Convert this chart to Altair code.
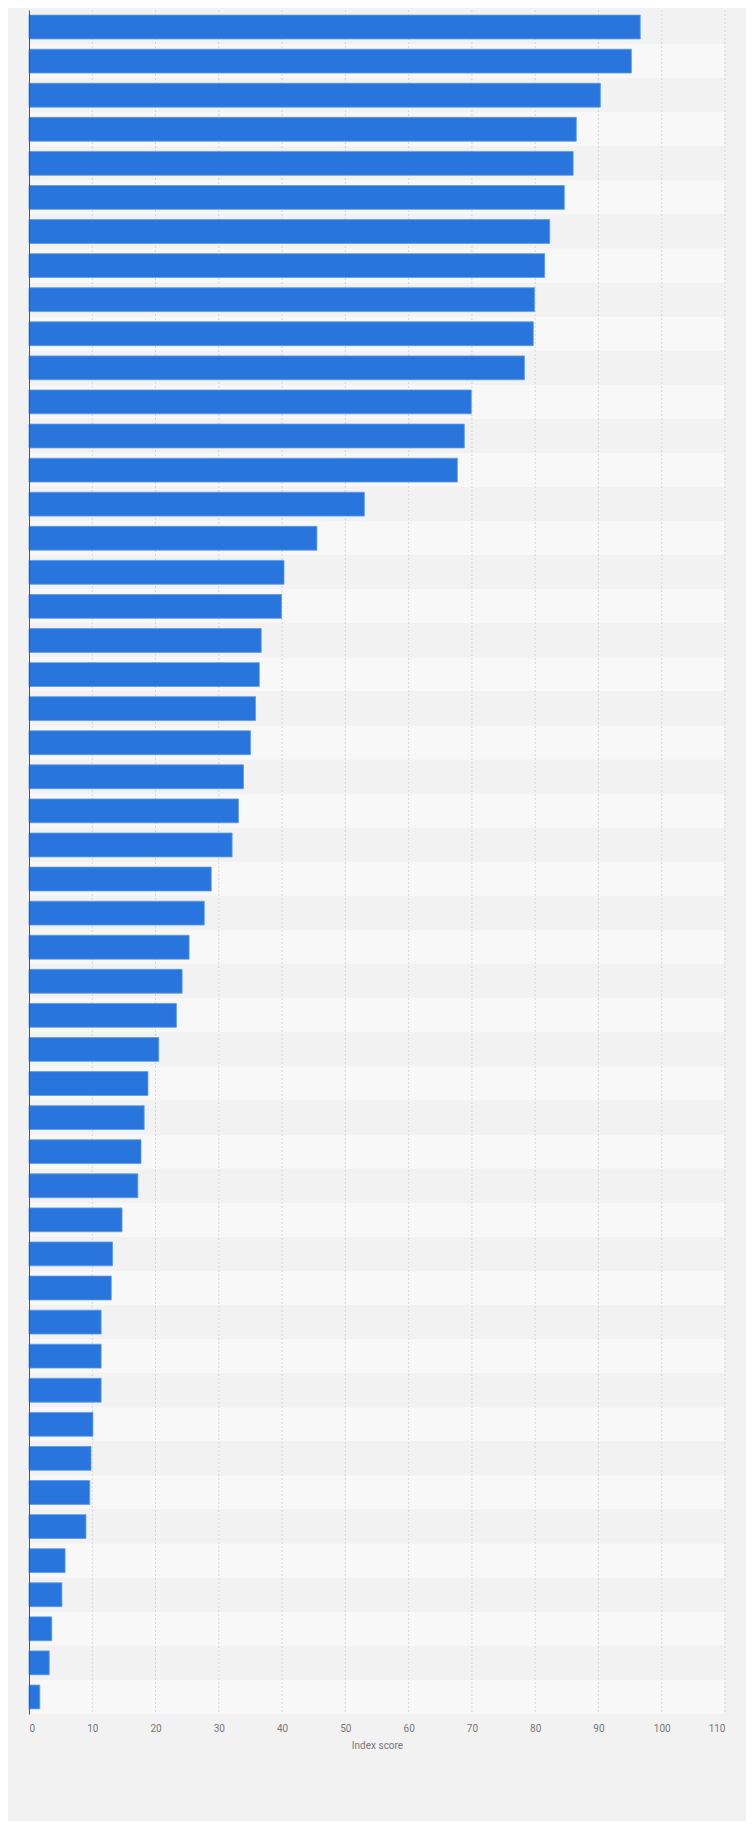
import altair as alt
import pandas as pd

ranks = [f"#{i}" for i in range(1, 51)]
scores = [96.6, 95.2, 90.3, 86.5, 86.0, 84.6, 82.3, 81.5, 79.9, 79.7,
          78.3, 69.9, 68.8, 67.7, 53.0, 45.5, 40.3, 39.9, 36.7, 36.4,
          35.8, 35.0, 33.9, 33.1, 32.1, 28.8, 27.7, 25.3, 24.2, 23.3,
          20.5, 18.8, 18.2, 17.7, 17.2, 14.7, 13.2, 13.0, 11.4, 11.4,
          11.4, 10.1, 9.8, 9.6, 9.0, 5.7, 5.2, 3.6, 3.2, 1.7]
x_ticks = list(range(0, 111, 10))

df = pd.DataFrame({"rank": ranks, "score": scores,
                   "stripe": [i % 2 for i in range(len(ranks))]})
grid_df = pd.DataFrame({"score": x_ticks[1:]})

font = "Roboto"

x_axis = alt.Axis(values=x_ticks, title="Index score", grid=False,
                  domain=False, ticks=False, labelFlush=True,
                  labelColor="#777777", labelFont=font, labelFontSize=10,
                  labelPadding=9, titleColor="#777777", titleFont=font,
                  titleFontSize=10, titleFontWeight="normal",
                  titlePadding=7)
x_scale = alt.Scale(domain=[0, 110], nice=False)

bg = alt.Chart(df).mark_rect().encode(
    y=alt.Y("rank:N", sort=ranks,
            scale=alt.Scale(paddingInner=0, paddingOuter=0),
            axis=None),
    x=alt.value(0),
    x2=alt.value(696),
    color=alt.Color("stripe:N",
                    scale=alt.Scale(domain=[0, 1], range=["#f2f2f2", "#f8f8f8"]),
                    legend=None),
)

grid = alt.Chart(grid_df).mark_rule(
    color="#d6d6d6", strokeDash=[2, 2], strokeWidth=1
).encode(
    x=alt.X("score:Q", scale=x_scale, axis=x_axis),
    y=alt.value(0),
    y2=alt.value(1704),
)

bars = alt.Chart(df).mark_bar(
    color="#2876dd", stroke="#5e9be9", strokeWidth=0.8
).encode(
    y=alt.Y("rank:N", sort=ranks,
            scale=alt.Scale(paddingInner=0.3, paddingOuter=0.15),
            axis=alt.Axis(labels=False, ticks=False, title=None, grid=False,
                          domain=True, domainColor="#555555", domainWidth=1,
                          zindex=2)),
    x=alt.X("score:Q", scale=x_scale, axis=x_axis),
)

chart = alt.layer(bg, grid, bars).resolve_scale(
    y="independent", color="independent"
).properties(
    width=696,
    height=1704,
    autosize=alt.AutoSizeParams(type="none"),
    padding={"left": 21, "top": 2, "right": 21, "bottom": 107},
    background="#f2f2f2",
).configure_view(stroke=None)

chart.save("out.html", embed_options={"renderer": "svg", "actions": False})
